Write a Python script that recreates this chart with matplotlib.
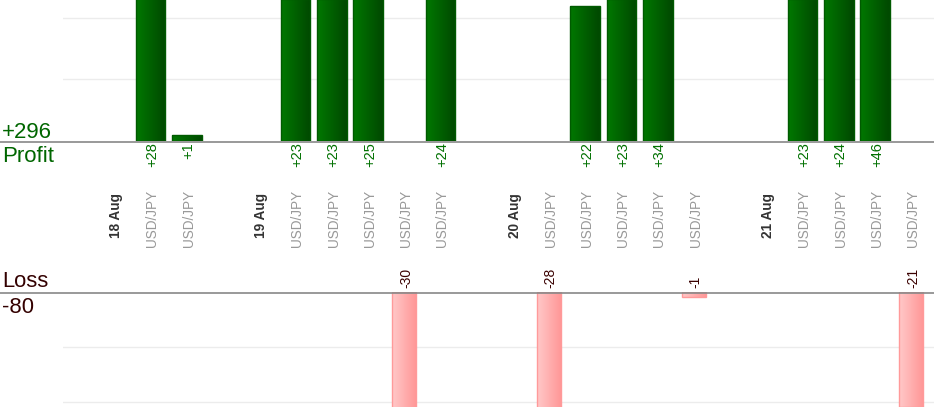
import numpy as np
import matplotlib
matplotlib.use("Agg")
import matplotlib.pyplot as plt
from matplotlib.colors import LinearSegmentedColormap
from matplotlib.transforms import blended_transform_factory
from matplotlib.lines import Line2D

plt.rcParams['font.family'] = ['Liberation Sans', 'DejaVu Sans']

# ---- data ----
days = ["18 Aug", "19 Aug", "20 Aug", "21 Aug"]
pair = "USD/JPY"
day_trades = [
    [28, 1],
    [23, 23, 25, -30, 24],
    [-28, 22, 23, 34, -1],
    [23, 24, 46, -21],
]
profit_label = "Profit"
loss_label = "Loss"

# ---- build slots ----
slot_x = []
slot_text = []
slot_is_day = []
trade_x = []
trade_v = []
pos = 0
for d, trades in zip(days, day_trades):
    slot_x.append(pos); slot_text.append(d); slot_is_day.append(True)
    pos += 1
    for v in trades:
        slot_x.append(pos); slot_text.append(pair); slot_is_day.append(False)
        trade_x.append(pos); trade_v.append(v)
        pos += 1
    pos += 1  # gap slot
trade_x = np.array(trade_x)
trade_v = np.array(trade_v)
total_profit = trade_v[trade_v > 0].sum()
total_loss = trade_v[trade_v < 0].sum()

W, H = 934, 420
fig = plt.figure(figsize=(W / 100, H / 100), dpi=100)

def fy(px):
    return 1 - px / H

left = 63 / W
ax_top = fig.add_axes([left, fy(141), 1 - left, 141 / H])
ax_bot = fig.add_axes([left, fy(407), 1 - left, (407 - 292) / H])

xlim = (-1.47, 22.58)
for ax in (ax_top, ax_bot):
    ax.set_xlim(*xlim)
    for s in ax.spines.values():
        s.set_visible(False)
    ax.set_xticks([])
    ax.tick_params(left=False, labelleft=False)
    ax.set_facecolor('none')

ax_top.set_yticks([10, 20])
ax_bot.set_yticks([-10, -20])
for ax in (ax_top, ax_bot):
    ax.grid(axis='y', color='#ececec', linewidth=1)
    ax.set_axisbelow(True)

green_cmap = LinearSegmentedColormap.from_list('g', ['#007800', '#004800'])
pink_cmap = LinearSegmentedColormap.from_list('p', ['#ffc8c8', '#ff9696'])
grad = np.linspace(0, 1, 64).reshape(1, -1)

def gradient_bars(ax, xs, vals, width, cmap, edge, offset):
    bars = ax.bar(xs + offset, vals, width=width, facecolor='none',
                  edgecolor=edge, linewidth=1, zorder=3)
    for b in bars:
        x0, y0 = b.get_x(), b.get_y()
        w, h = b.get_width(), b.get_height()
        im = ax.imshow(grad, cmap=cmap, aspect='auto',
                       extent=[x0, x0 + w, min(y0, y0 + h), max(y0, y0 + h)],
                       zorder=2, interpolation='bicubic')
        im.set_clip_path(b.get_path(), b.get_transform())
    return bars

pm = trade_v > 0
gradient_bars(ax_top, trade_x[pm], trade_v[pm], 0.82, green_cmap, '#005a00', -0.05)
gradient_bars(ax_bot, trade_x[~pm], trade_v[~pm], 0.67, pink_cmap, '#ff9a9a', -0.05)
for ax in (ax_top, ax_bot):
    ax.set_xlim(*xlim)
ax_top.set_ylim(0, 22.9)
ax_bot.set_ylim(-21, 0)

# value labels
for x, v in zip(trade_x[pm], trade_v[pm]):
    ax_top.annotate(f"+{v}", (x, 0), xytext=(0, -1.0), textcoords='offset points',
                    rotation=90, ha='center', va='top', color='#007000', fontsize=10.5)
for x, v in zip(trade_x[~pm], trade_v[~pm]):
    ax_bot.annotate(f"{v}", (x, 0), xytext=(0, 3.2), textcoords='offset points',
                    rotation=90, ha='center', va='bottom', color='#3a0000', fontsize=10)

# category labels in the middle band
tr = blended_transform_factory(ax_top.transData, fig.transFigure)
for x, t, isday in zip(slot_x, slot_text, slot_is_day):
    if isday:
        fig.text(x, fy(215.5), t, transform=tr, rotation=90, ha='center', va='center',
                 fontsize=9.8, fontweight='bold', color='#333333')
    else:
        fig.text(x, fy(218.5), t, transform=tr, rotation=90, ha='center', va='center',
                 fontsize=9.8, color='#999999')

# baselines across the full width
fig.add_artist(Line2D([0, 1], [fy(141.5), fy(141.5)], transform=fig.transFigure,
                      color='#888888', linewidth=1.2))
fig.add_artist(Line2D([0, 1], [fy(292.5), fy(292.5)], transform=fig.transFigure,
                      color='#888888', linewidth=1.2))

# side totals
fig.text(2 / W, fy(138), f"+{total_profit}", ha='left', va='baseline',
         fontsize=16, color='#006600')
fig.text(2 / W, fy(162), profit_label, ha='left', va='baseline',
         fontsize=16, color='#006600')
fig.text(2 / W, fy(287), loss_label, ha='left', va='baseline',
         fontsize=15.8, color='#330000')
fig.text(2 / W, fy(313), f"{total_loss}", ha='left', va='baseline',
         fontsize=15.8, color='#330000')

fig.savefig("out.png", dpi=100)
